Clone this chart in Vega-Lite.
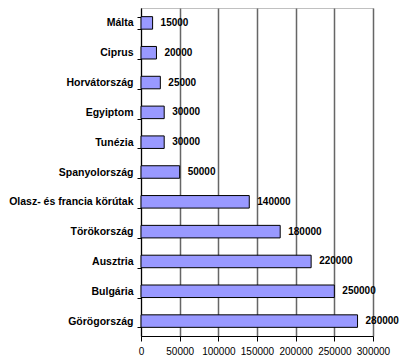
{
  "$schema": "https://vega.github.io/schema/vega-lite/v6.json",
  "width": 232,
  "height": 328,
  "autosize": {"type": "none"},
  "padding": {"left": 141, "top": 8, "right": 27, "bottom": 26},
  "background": "white",
  "config": {
    "font": "Liberation Sans",
    "view": {"stroke": "#c0c0c0", "strokeWidth": 1}
  },
  "data": {
    "values": [
      {"orszag": "Málta", "ertek": 15000},
      {"orszag": "Ciprus", "ertek": 20000},
      {"orszag": "Horvátország", "ertek": 25000},
      {"orszag": "Egyiptom", "ertek": 30000},
      {"orszag": "Tunézia", "ertek": 30000},
      {"orszag": "Spanyolország", "ertek": 50000},
      {"orszag": "Olasz- és francia körútak", "ertek": 140000},
      {"orszag": "Törökország", "ertek": 180000},
      {"orszag": "Ausztria", "ertek": 220000},
      {"orszag": "Bulgária", "ertek": 250000},
      {"orszag": "Görögország", "ertek": 280000}
    ]
  },
  "encoding": {
    "y": {
      "field": "orszag",
      "type": "nominal",
      "sort": null,
      "scale": {"paddingInner": 0.58, "paddingOuter": 0.29},
      "axis": {
        "title": null,
        "domainColor": "black",
        "tickColor": "black",
        "tickSize": 4,
        "tickBand": "extent",
        "labelFont": "Liberation Sans",
        "labelFontSize": 10.5,
        "labelFontWeight": "bold",
        "labelColor": "black",
        "labelPadding": 4
      }
    },
    "x": {
      "field": "ertek",
      "type": "quantitative",
      "scale": {"domain": [0, 300000], "nice": false},
      "axis": {
        "title": null,
        "values": [0, 50000, 100000, 150000, 200000, 250000, 300000],
        "format": "d",
        "labelOverlap": false,
        "labelFlush": false,
        "domainColor": "black",
        "tickColor": "black",
        "tickSize": 5,
        "gridColor": "#666666",
        "gridWidth": 1.5,
        "gridOpacity": 1,
        "labelFont": "Liberation Sans",
        "labelFontSize": 10,
        "labelColor": "black",
        "labelPadding": 5
      }
    }
  },
  "layer": [
    {
      "mark": {"type": "bar", "fill": "#9999ff", "stroke": "black", "strokeWidth": 1}
    },
    {
      "mark": {"type": "text", "align": "left", "dx": 8, "fontWeight": "bold", "fontSize": 10, "font": "Liberation Sans", "color": "black"},
      "encoding": {"text": {"field": "ertek", "type": "quantitative", "format": "d"}}
    }
  ]
}
